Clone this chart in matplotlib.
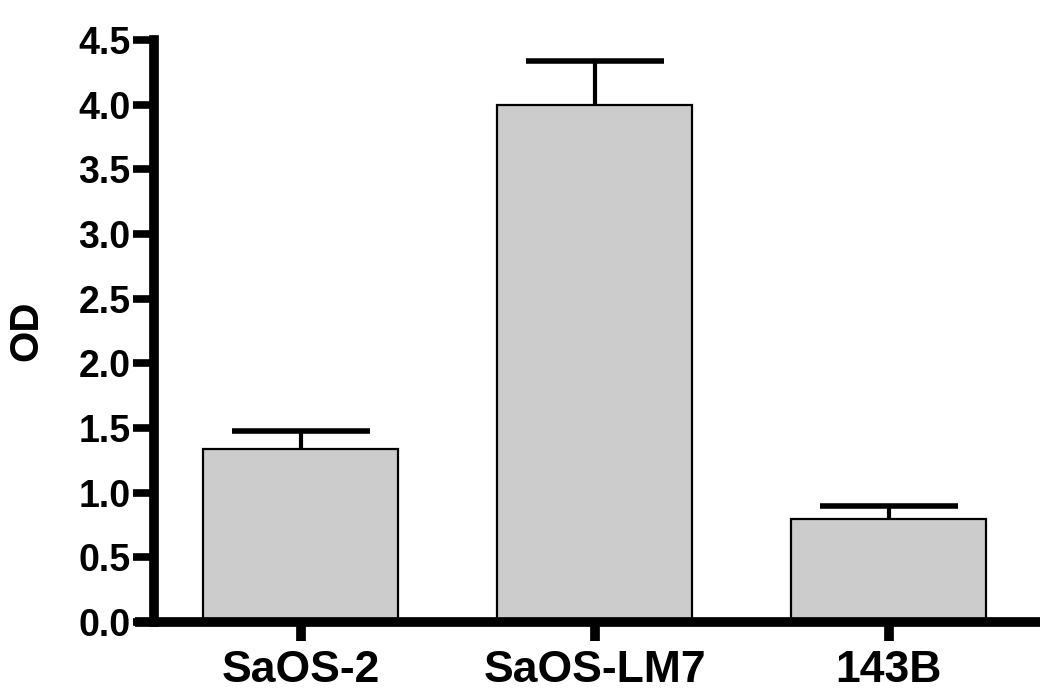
import matplotlib
matplotlib.use("Agg")
import matplotlib.pyplot as plt
import numpy as np

categories = ["SaOS-2", "SaOS-LM7", "143B"]
values = [1.34, 4.00, 0.80]
errors = [0.14, 0.34, 0.10]
yticks = [0.0, 0.5, 1.0, 1.5, 2.0, 2.5, 3.0, 3.5, 4.0, 4.5]

plt.rcParams['font.family'] = ['Liberation Sans', 'DejaVu Sans']
plt.rcParams['font.weight'] = 'bold'

fig = plt.figure(figsize=(10.5, 6.98), dpi=100)
ax = fig.add_axes([0.1286, 0.1089, 0.8619, 0.8338])

x = np.arange(len(categories))
# symmetric error bars drawn beneath the opaque bars so only the upper part shows
ax.errorbar(x, values, yerr=errors, fmt='none',
            ecolor='black', elinewidth=3, capsize=50, capthick=4, zorder=1)
ax.bar(x, values, width=0.663, color='#cccccc', edgecolor='black', linewidth=1.6, zorder=2)

ax.set_xlim(-0.563, 2.515)
ax.set_ylim(0, 4.5)
ax.spines['top'].set_visible(False)
ax.spines['right'].set_visible(False)
ax.spines['left'].set_position(('data', -0.498))
ax.spines['left'].set_linewidth(7)
ax.spines['bottom'].set_linewidth(7)
ax.spines['left'].set_capstyle('projecting')
ax.spines['bottom'].set_capstyle('butt')
ax.spines['left'].set_zorder(4)
ax.spines['bottom'].set_zorder(4)

ax.set_yticks(yticks)
ax.set_yticklabels([f"{v:.1f}" for v in yticks], fontsize=27, fontweight='bold')
ax.set_xticks(x)
ax.set_xticklabels(categories, fontsize=32, fontweight='bold')
ax.tick_params(axis='y', direction='out', length=15, width=5.5, pad=2)
ax.tick_params(axis='x', direction='out', length=14, width=7, pad=6)

ax.set_ylabel("OD", fontsize=29, fontweight='bold', labelpad=24)

fig.savefig("out.png", dpi=100)
